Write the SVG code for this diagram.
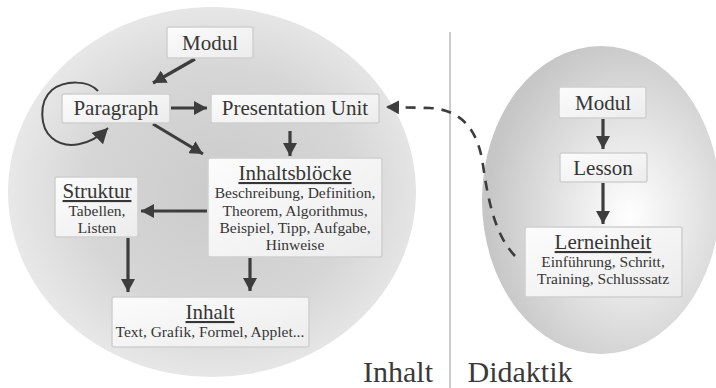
<svg xmlns="http://www.w3.org/2000/svg" width="716" height="388" viewBox="0 0 716 388">
<style>
.bx{fill:url(#box);stroke:#cfcfcf;stroke-width:1.5}
.t{fill:#363636;text-anchor:middle}
.h{font-size:21px}
.s{font-size:15.5px}
.u{text-decoration:underline}
.big{font-size:30px;fill:#3a3a3a}
.c{stroke:#3d3d3d;stroke-width:3.2;fill:none;marker-end:url(#ah)}
</style>
<defs>
<radialGradient id="gl" cx="0.52" cy="0.5" r="0.55">
<stop offset="0" stop-color="#cbcbcb"/>
<stop offset="0.6" stop-color="#d6d6d6"/>
<stop offset="1" stop-color="#ebebeb"/>
</radialGradient>
<radialGradient id="gr" cx="0.62" cy="0.55" r="0.6">
<stop offset="0" stop-color="#ffffff"/>
<stop offset="0.45" stop-color="#e6e6e6"/>
<stop offset="1" stop-color="#c6c6c6"/>
</radialGradient>
<linearGradient id="box" x1="0" y1="0" x2="1" y2="1">
<stop offset="0" stop-color="#fcfcfc"/>
<stop offset="1" stop-color="#ececec"/>
</linearGradient>
<marker id="ah" markerUnits="userSpaceOnUse" markerWidth="14" markerHeight="14" refX="13" refY="7" orient="auto">
<path d="M0,0 L13,7 L0,14 z" fill="#3d3d3d"/>
</marker>
<marker id="ah2" markerUnits="userSpaceOnUse" markerWidth="16" markerHeight="16" refX="15" refY="8" orient="auto">
<path d="M0,0 L15,8 L0,16 z" fill="#3d3d3d"/>
</marker>
</defs>
<rect width="716" height="388" fill="#ffffff"/>
<ellipse cx="212" cy="192" rx="204" ry="185" fill="url(#gl)"/>
<ellipse cx="601" cy="200" rx="119" ry="154" fill="url(#gr)"/>
<line x1="450" y1="32" x2="450" y2="388" stroke="#cccccc" stroke-width="2"/>
<text class="t big" font-family="Liberation Serif" x="398" y="382">Inhalt</text>
<text class="t big" font-family="Liberation Serif" x="520" y="382">Didaktik</text>

<g id="connectors">
<path class="c" d="M195,59 L153,83"/>
<path class="c" d="M171,108 L207,108"/>
<path class="c" d="M153,124 L203,154"/>
<path class="c" d="M290,131 L290,156"/>
<path class="c" d="M207,211 L141,211"/>
<path class="c" d="M128,238 L128,292"/>
<path class="c" d="M250,258 L250,291"/>
<path d="M98,91 C88,80 65,80 52,90 C38,102 40,128 52,138 C66,150 90,146 108,128" fill="none" stroke="#3d3d3d" stroke-width="2" marker-end="url(#ah2)"/>
<path class="c" d="M603,119 L603,149"/>
<path class="c" d="M603,183 L603,224"/>
<path d="M515,256 C495,235 488,200 483,165 C478,130 462,110 430,108 L386,107" fill="none" stroke="#3d3d3d" stroke-width="2.6" stroke-dasharray="10,8" marker-end="url(#ah)"/>
</g>

<g id="modul-l"><rect class="bx" x="167" y="27" width="86" height="31" rx="2"/><text class="t h" font-family="Liberation Serif" x="210" y="50">Modul</text></g>
<g id="paragraph"><rect class="bx" x="62" y="94" width="108" height="29" rx="2"/><text class="t h" font-family="Liberation Serif" x="116" y="115">Paragraph</text></g>
<g id="presentation"><rect class="bx" x="211" y="94" width="168" height="29" rx="2"/><text class="t h" font-family="Liberation Serif" x="295" y="115">Presentation Unit</text></g>
<g id="inhaltsbloecke"><rect class="bx" x="208" y="158" width="174" height="99" rx="2"/>
<text class="t h u" font-family="Liberation Serif" x="295" y="180">Inhaltsblöcke</text>
<text class="t s" font-family="Liberation Serif" x="295" y="198">Beschreibung, Definition,</text>
<text class="t s" font-family="Liberation Serif" x="295" y="216">Theorem, Algorithmus,</text>
<text class="t s" font-family="Liberation Serif" x="295" y="233">Beispiel, Tipp, Aufgabe,</text>
<text class="t s" font-family="Liberation Serif" x="295" y="250">Hinweise</text></g>
<g id="struktur"><rect class="bx" x="55" y="177" width="83" height="60" rx="2"/>
<text class="t h u" font-family="Liberation Serif" x="97" y="198">Struktur</text>
<text class="t s" font-family="Liberation Serif" x="97" y="216">Tabellen,</text>
<text class="t s" font-family="Liberation Serif" x="97" y="233">Listen</text></g>
<g id="inhalt"><rect class="bx" x="112" y="297" width="197" height="50" rx="2"/>
<text class="t h u" font-family="Liberation Serif" x="210" y="319">Inhalt</text>
<text class="t s" font-family="Liberation Serif" x="210" y="337">Text, Grafik, Formel, Applet...</text></g>
<g id="modul-r"><rect class="bx" x="559" y="87" width="87" height="31" rx="2"/><text class="t h" font-family="Liberation Serif" x="603" y="110">Modul</text></g>
<g id="lesson"><rect class="bx" x="560" y="153" width="87" height="29" rx="2"/><text class="t h" font-family="Liberation Serif" x="603" y="175">Lesson</text></g>
<g id="lerneinheit"><rect class="bx" x="525" y="227" width="157" height="70" rx="2"/>
<text class="t h u" font-family="Liberation Serif" x="603" y="249">Lerneinheit</text>
<text class="t s" font-family="Liberation Serif" x="603" y="267">Einführung, Schritt,</text>
<text class="t s" font-family="Liberation Serif" x="603" y="284">Training, Schlusssatz</text></g>
</svg>
